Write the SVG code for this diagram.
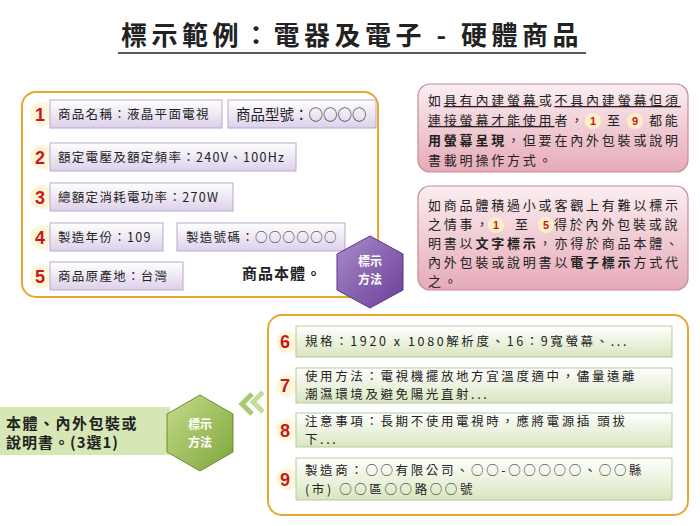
<svg xmlns="http://www.w3.org/2000/svg" width="700" height="526" viewBox="0 0 700 526">
<defs>
<linearGradient id="lav" x1="0" y1="0" x2="0" y2="1"><stop offset="0" stop-color="#ffffff"/><stop offset="1" stop-color="#ddd0ea"/></linearGradient>
<linearGradient id="pink" x1="0" y1="0" x2="0" y2="1"><stop offset="0" stop-color="#fbeef1"/><stop offset="1" stop-color="#e6aab8"/></linearGradient>
<linearGradient id="grn" x1="0" y1="0" x2="0" y2="1"><stop offset="0" stop-color="#ffffff"/><stop offset="1" stop-color="#d9e6bf"/></linearGradient>
<linearGradient id="hexp" x1="0" y1="0" x2="1" y2="1"><stop offset="0" stop-color="#a98bc9"/><stop offset="1" stop-color="#6a3f98"/></linearGradient>
<linearGradient id="hexg" x1="0" y1="0" x2="1" y2="1"><stop offset="0" stop-color="#c5dc8a"/><stop offset="1" stop-color="#7ea53a"/></linearGradient>
</defs>
<style>
text{font-family:"Noto Sans CJK TC","Liberation Serif",serif;fill:#222}
.t{font-size:12.5px;letter-spacing:1.3px}
.p{font-size:13px;letter-spacing:2.8px}
.g{font-size:12.5px;letter-spacing:2.6px}
.n{font-family:"Liberation Sans",sans-serif;font-weight:bold;font-size:18px;fill:#c8171e}
.lb{fill:url(#lav);stroke:#b9a9cc;stroke-width:1}
.gb{fill:url(#grn);stroke:#b8c99a;stroke-width:1}
.pk{fill:url(#pink);stroke:#c98a98;stroke-width:1.2}
.fr{fill:#fff;stroke:#e8a72e;stroke-width:2}
.nc{fill:#fdf6d8}
.hx{font-size:12px;font-weight:bold;fill:#fff}
.sn{font-family:"Liberation Sans",sans-serif;font-weight:bold;font-size:11px;fill:#c8171e}
</style>
<g id="title">
<text x="352" y="45" text-anchor="middle" font-size="26" font-weight="bold" letter-spacing="4.5">標示範例：電器及電子 - 硬體商品</text>
<line x1="118" y1="53" x2="586" y2="53" stroke="#222" stroke-width="1.5"/>
</g>
<g id="top">
<rect class="fr" x="22" y="92" width="356" height="205" rx="14"/>
<circle class="nc" cx="42" cy="114" r="12"/><circle class="nc" cx="42" cy="157" r="12"/><circle class="nc" cx="42" cy="197" r="12"/><circle class="nc" cx="42" cy="237" r="12"/><circle class="nc" cx="42" cy="276" r="12"/>
<rect class="lb" x="50" y="100" width="172" height="28"/><text class="n" x="35" y="121">1</text><text class="t" x="58" y="119">商品名稱：液晶平面電視</text>
<rect class="lb" x="228" y="100" width="148" height="28"/><text x="236" y="120" font-size="14.5">商品型號：○○○○</text>
<rect class="lb" x="50" y="143" width="246" height="28"/><text class="n" x="35" y="164">2</text><text class="t" x="58" y="162">額定電壓及額定頻率：240V、100Hz</text>
<rect class="lb" x="50" y="183" width="183" height="28"/><text class="n" x="35" y="204">3</text><text class="t" x="58" y="202">總額定消耗電功率：270W</text>
<rect class="lb" x="50" y="223" width="113" height="28"/><text class="n" x="35" y="244">4</text><text class="t" x="58" y="242">製造年份：109</text>
<rect class="lb" x="177" y="223" width="168" height="28"/><text class="t" x="186" y="242">製造號碼：○○○○○○</text>
<rect class="lb" x="50" y="262" width="133" height="28"/><text class="n" x="35" y="283">5</text><text class="t" x="58" y="281">商品原產地：台灣</text>
<rect x="232" y="256" width="98" height="36" fill="#fff"/><text x="242" y="279" font-size="15" font-weight="bold" letter-spacing="1">商品本體。</text>
</g>
<g id="hex1">
<polygon points="370,236 403,254 403,290 370,308 337,290 337,254" fill="url(#hexp)" stroke="#5a3386"/>
<text class="hx" x="370" y="266" text-anchor="middle">標示</text><text class="hx" x="370" y="284" text-anchor="middle">方法</text>
</g>
<g id="note1">
<rect class="pk" x="418" y="84" width="270" height="88" rx="12"/>
<g class="p"><text x="428" y="105">如<tspan text-decoration="underline">具有內建螢幕</tspan>或<tspan text-decoration="underline">不具內建螢幕但須</tspan></text>
<text x="428" y="125"><tspan text-decoration="underline">連接螢幕才能使用</tspan>者，</text>
<text x="607" y="125">至</text><text x="649" y="125">都能</text>
<text x="428" y="145"><tspan font-weight="bold">用螢幕呈現</tspan>，但要在內外包裝或說明</text>
<text x="428" y="165">書載明操作方式。</text></g>
<circle cx="593" cy="121" r="8" fill="#fdf0c8"/><text class="sn" x="593" y="125" text-anchor="middle">1</text>
<circle cx="635" cy="121" r="8" fill="#fdf0c8"/><text class="sn" x="635" y="125" text-anchor="middle">9</text>
</g>
<g id="note2">
<rect class="pk" x="418" y="186" width="270" height="104" rx="12"/>
<g class="p"><text x="428" y="210">如商品體積過小或客觀上有難以標示</text>
<text x="428" y="229">之情事，</text><text x="515" y="229">至</text><text x="554" y="229">得於內外包裝或說</text>
<text x="428" y="248">明書以<tspan font-weight="bold">文字標示</tspan>，亦得於商品本體、</text>
<text x="428" y="267">內外包裝或說明書以<tspan font-weight="bold">電子標示</tspan>方式代</text>
<text x="428" y="286">之。</text></g>
<circle cx="496" cy="225" r="8" fill="#fdf0c8"/><text class="sn" x="496" y="229" text-anchor="middle">1</text>
<circle cx="546" cy="225" r="8" fill="#fdf0c8"/><text class="sn" x="546" y="229" text-anchor="middle">5</text>
</g>
<g id="bottom">
<rect class="fr" x="268" y="315" width="420" height="200" rx="14"/>
<circle class="nc" cx="287" cy="342" r="11"/><circle class="nc" cx="287" cy="386" r="11"/><circle class="nc" cx="287" cy="430" r="11"/><circle class="nc" cx="287" cy="479" r="11"/>
<rect class="gb" x="296" y="326" width="376" height="31"/><text class="n" x="280" y="348">6</text><text class="g" x="305" y="346">規格：1920 x 1080解析度、16：9寬螢幕、...</text>
<rect class="gb" x="296" y="368" width="376" height="35"/><text class="n" x="280" y="392">7</text><text class="g" x="305" y="381">使用方法：電視機擺放地方宜溫度適中，儘量遠離</text><text class="g" x="305" y="399">潮濕環境及避免陽光直射...</text>
<rect class="gb" x="296" y="413" width="376" height="34"/><text class="n" x="280" y="437">8</text><text class="g" x="305" y="426">注意事項：長期不使用電視時，應將電源插 頭拔</text><text class="g" x="305" y="444">下...</text>
<rect class="gb" x="296" y="458" width="376" height="42"/><text class="n" x="280" y="486">9</text><text class="g" x="305" y="475">製造商：○○有限公司、○○-○○○○○、○○縣</text><text class="g" x="305" y="494">(市) ○○區○○路○○號</text>
</g>
<g id="leftlabel">
<rect x="0" y="407" width="170" height="48" fill="#d6e6b5"/>
<text x="6" y="429" font-size="15" font-weight="bold" letter-spacing="1.5">本體、內外包裝或</text>
<text x="6" y="448" font-size="15" font-weight="bold" letter-spacing="1">說明書。(3選1)</text>
</g>
<g id="hex2">
<polygon points="200,395 233,414 233,452 200,471 167,452 167,414" fill="url(#hexg)" stroke="#6b8f2e"/>
<text class="hx" x="200" y="429" text-anchor="middle">標示</text><text class="hx" x="200" y="447" text-anchor="middle">方法</text>
</g>
<g id="connectors">
<polyline points="252,394 242,404 252,414" fill="none" stroke="#a9c870" stroke-width="5"/>
<polyline points="263,392 253,402 263,412" fill="none" stroke="#c5dc9a" stroke-width="5"/>
</g>
</svg>
